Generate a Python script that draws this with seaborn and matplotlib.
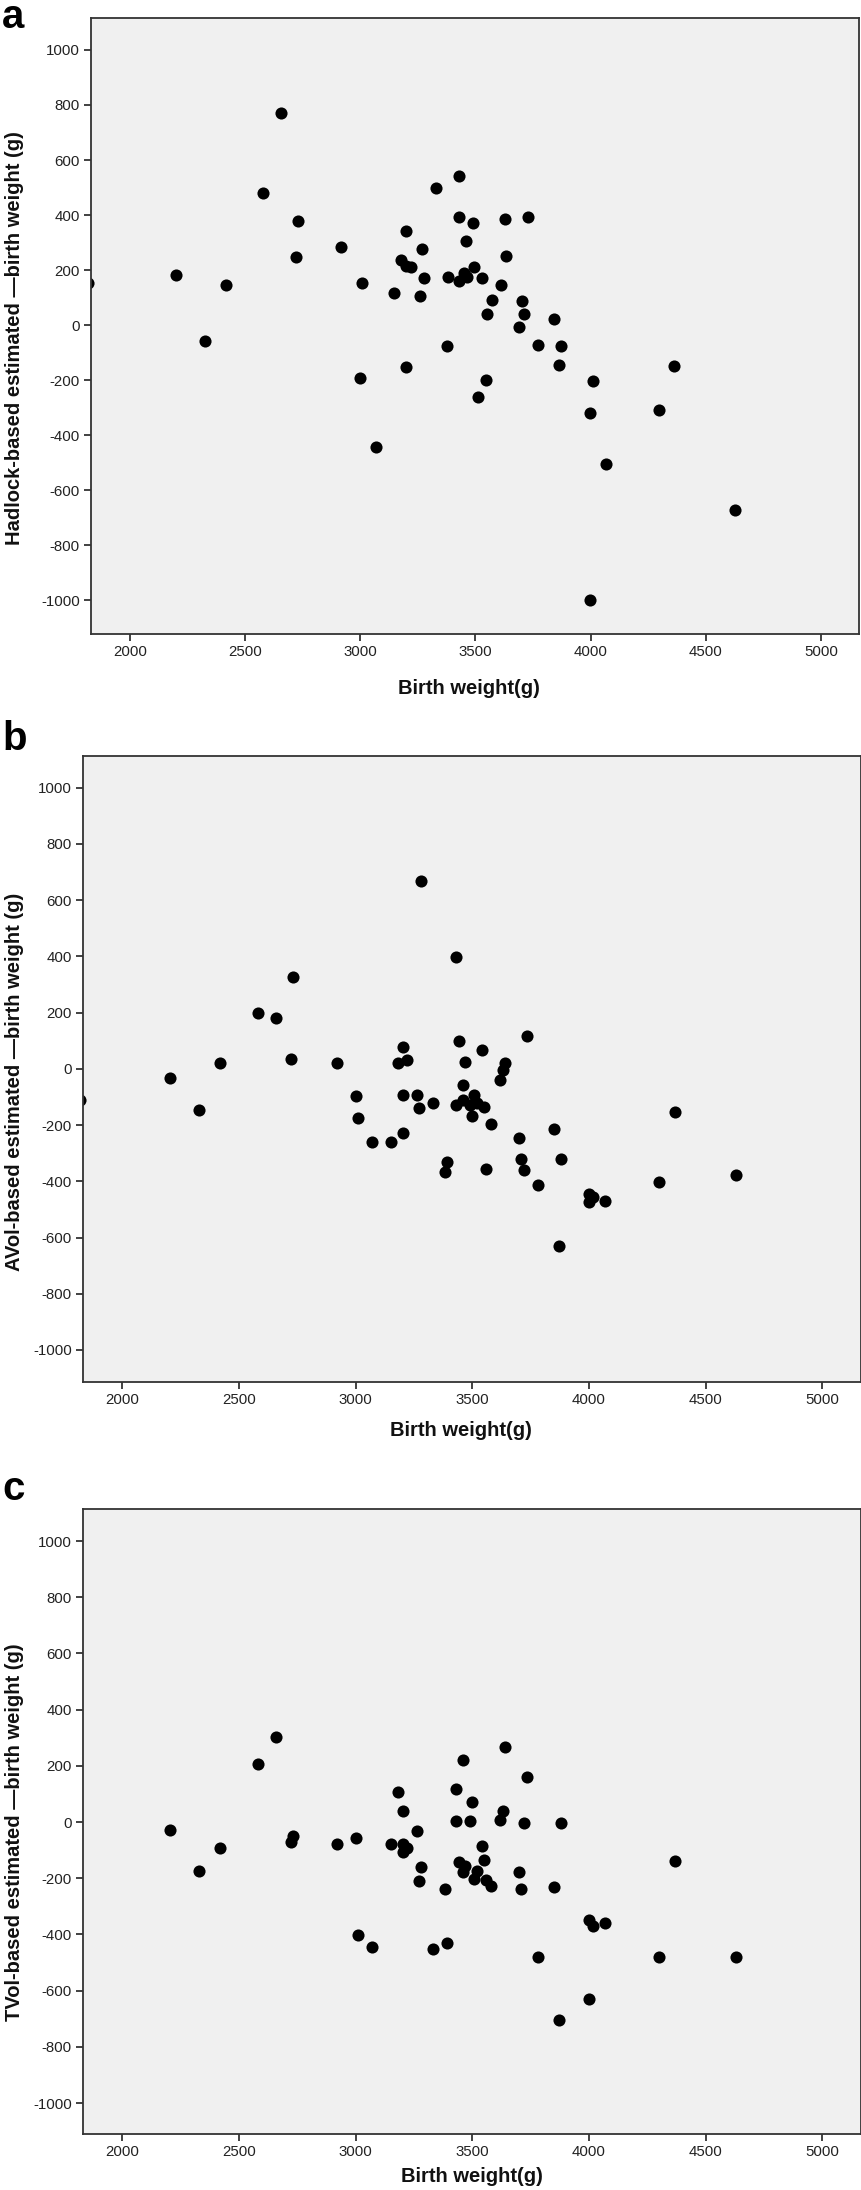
import matplotlib
matplotlib.use("Agg")
import matplotlib.pyplot as plt
import seaborn as sns
import numpy as np

# ---------------- data ----------------
bw_a = [1820, 2658, 2579, 2730, 2721, 2199, 2419, 2328, 2917, 3008, 2998, 3068,
        3147, 3178, 3199, 3199, 3219, 3269, 3278, 3259, 3199, 3329, 3380, 3375,
        3427, 3427, 3489, 3458, 3452, 3430, 3465, 3495, 3530, 3510, 3545, 3572,
        3550, 3610, 3628, 3632, 3729, 3702, 3712, 3690, 3773, 3842, 3870, 3862,
        4010, 3997, 4068, 3997, 4296, 4360, 4626]
diff_a = [155, 771, 479, 379, 248, 181, 145, -59, 284, 152, -193, -441,
          116, 237, 343, 216, 211, 278, 172, 106, -152, 497, 174, -75,
          542, 394, 371, 304, 190, 162, 176, 213, 171, -262, -200, 92,
          42, 147, 384, 250, 392, 88, 42, -5, -72, 24, -76, -145,
          -204, -320, -505, -1000, -308, -150, -670]

bw_b = [1820, 2203, 2331, 2421, 2580, 2660, 2731, 2722, 2920, 3001, 3010, 3072,
        3152, 3202, 3181, 3221, 3202, 3202, 3261, 3270, 3280, 3332, 3382, 3391,
        3431, 3441, 3431, 3460, 3460, 3469, 3490, 3500, 3509, 3521, 3540, 3550,
        3559, 3580, 3620, 3630, 3639, 3701, 3710, 3720, 3732, 3781, 3850, 3881,
        3871, 3999, 3999, 4018, 4070, 4300, 4370, 4631]
diff_b = [-111, -31, -146, 21, 197, 181, 327, 35, 21, -95, -176, -261,
          -261, 77, 21, 33, -92, -227, -92, -141, 668, -122, -367, -333,
          399, 100, -127, -58, -110, 26, -127, -168, -92, -122, 67, -135,
          -356, -197, -38, -4, 21, -246, -322, -359, 117, -413, -215, -320,
          -630, -446, -473, -456, -470, -403, -155, -379]

bw_c = [2203, 2331, 2421, 2580, 2660, 2731, 2722, 2920, 3001, 3010, 3072, 3152,
        3181, 3202, 3202, 3202, 3221, 3261, 3280, 3270, 3332, 3382, 3391, 3431,
        3431, 3441, 3460, 3460, 3469, 3490, 3500, 3509, 3521, 3540, 3550, 3559,
        3580, 3620, 3630, 3639, 3701, 3710, 3720, 3732, 3781, 3850, 3881, 3871,
        3999, 3999, 4018, 4070, 4300, 4370, 4631]
diff_c = [-27, -173, -91, 205, 301, -50, -72, -77, -55, -402, -444, -77,
          106, 39, -77, -108, -92, -32, -159, -210, -453, -239, -429, 118,
          2, -142, 222, -178, -156, 2, 70, -202, -174, -85, -135, -205,
          -227, 9, 39, 268, -179, -239, -2, 159, -479, -231, -3, -703,
          -347, -629, -371, -359, -479, -138, -480]

panel_letters = ["a", "b", "c"]
y_labels = ["Hadlock-based estimated \u2014birth weight (g)",
            "AVol-based estimated \u2014birth weight (g)",
            "TVol-based estimated \u2014birth weight (g)"]
x_label = "Birth weight(g)"
x_ticks = [2000, 2500, 3000, 3500, 4000, 4500, 5000]
y_ticks = [-1000, -800, -600, -400, -200, 0, 200, 400, 600, 800, 1000]

# ---------------- style ----------------
sns.set_theme(style="ticks")
plt.rcParams["font.family"] = ["Liberation Sans", "DejaVu Sans"]

W, H = 862, 2190
fig = plt.figure(figsize=(W / 100, H / 100), dpi=100)

# axes boxes in pixels: left, top, right, bottom
boxes = [(91, 18, 859, 634), (83, 756, 861, 1382), (83, 1509, 861, 2134)]
ylims = [(-1122, 1116), (-1114, 1113), (-1110, 1114)]
xlim = (1832, 5165)
datasets = [(bw_a, diff_a), (bw_b, diff_b), (bw_c, diff_c)]
letter_base = [28, 750, 1500]
ylab_x = [15, 15, 15]
ylab_y = [338, 1082, 1832]
xlab_pos = [(469, 688), (461, 1430), (472, 2176)]

frame_col = "#333333"
for i in range(3):
    l, t, r, b = boxes[i]
    ax = fig.add_axes([l / W, 1 - b / H, (r - l) / W, (b - t) / H])
    ax.set_facecolor("#F0F0F0")
    xs, ys = datasets[i]
    sns.scatterplot(x=xs, y=ys, ax=ax, color="black", s=76,
                    edgecolor="black", linewidth=0)
    ax.set_xlim(*xlim)
    ax.set_ylim(*ylims[i])
    ax.set_xticks(x_ticks)
    ax.set_yticks(y_ticks)
    ax.set_xticklabels([str(v) for v in x_ticks])
    ax.set_yticklabels([str(v) for v in y_ticks])
    for sp in ax.spines.values():
        sp.set_visible(True)
        sp.set_color(frame_col)
        sp.set_linewidth(1.3)
    ax.tick_params(axis="both", which="both", direction="out", length=5,
                   width=1.3, color=frame_col, labelsize=10.8,
                   labelcolor="#222222", pad=3, top=False, right=False)
    ax.set_xlabel("")
    ax.set_ylabel("")
    # y label
    fig.text(ylab_x[i] / W, 1 - ylab_y[i] / H, y_labels[i], rotation=90,
             ha="center", va="center", fontsize=14.5, fontweight="bold",
             color="#111111")
    # x label
    fig.text(xlab_pos[i][0] / W, 1 - xlab_pos[i][1] / H, x_label,
             ha="center", va="center", fontsize=14.5, fontweight="bold",
             color="#111111")
    # panel letter
    fig.text(2 / W, 1 - letter_base[i] / H, panel_letters[i], ha="left",
             va="baseline", fontsize=29, fontweight="bold", color="black")

fig.savefig("out.png", dpi=100, facecolor="white")
